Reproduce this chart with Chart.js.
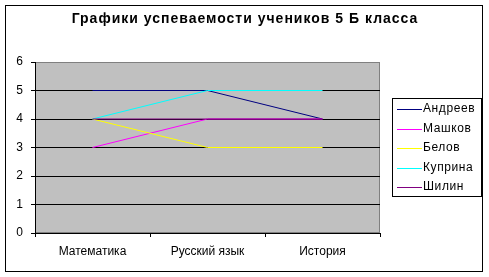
<!DOCTYPE html>
<html>
<head>
<meta charset="utf-8">
<script src="https://cdn.jsdelivr.net/npm/chart.js@4"></script>
<style>
html,body{margin:0;padding:0;background:#fff;}
#c{display:block;}
</style>
</head>
<body>
<canvas id="c" width="489" height="277"></canvas>
<script>
const titleText = 'Графики успеваемости учеников 5 Б класса';
const categories = ['Математика', 'Русский язык', 'История'];
const seriesNames = ['Андреев', 'Машков', 'Белов', 'Куприна', 'Шилин'];
const andreev = [5, 5, 4];
const mashkov = [3, 4, 4];
const belov = [4, 3, 3];
const kuprina = [4, 5, 5];
const shilin = [4, 4, 4];
const seriesColors = ['#000080', '#FF00FF', '#FFFF00', '#00FFFF', '#800080'];
const yTicks = [0, 1, 2, 3, 4, 5, 6];

const FONT = "'Liberation Sans', Arial, sans-serif";

const values = [andreev, mashkov, belov, kuprina, shilin];
const datasets = seriesNames.map((n, i) => ({
  label: n,
  data: values[i],
  borderColor: seriesColors[i],
  backgroundColor: seriesColors[i],
  borderWidth: 1,
  pointRadius: 0,
  pointHoverRadius: 0,
  tension: 0,
  fill: false,
  order: seriesNames.length - i
}));

const framePlugin = {
  id: 'frame',
  beforeDraw(chart) {
    const ctx = chart.ctx, a = chart.chartArea;
    ctx.save();
    ctx.fillStyle = '#fff';
    ctx.fillRect(0, 0, chart.width, chart.height);
    ctx.strokeStyle = '#000';
    ctx.lineWidth = 1;
    ctx.strokeRect(5.5, 5.5, 477, 266);
    ctx.fillStyle = '#C0C0C0';
    ctx.fillRect(a.left, a.top, a.right - a.left, a.bottom - a.top);
    ctx.strokeStyle = '#808080';
    ctx.strokeRect(a.left + 0.5, a.top + 0.5, a.right - a.left - 1, a.bottom - a.top - 1);
    ctx.restore();
  },
  afterDraw(chart) {
    const ctx = chart.ctx;
    ctx.save();
    // title
    ctx.fillStyle = '#000';
    ctx.font = 'bold 14px ' + FONT;
    ctx.textAlign = 'center';
    ctx.textBaseline = 'middle';
    if ('letterSpacing' in ctx) ctx.letterSpacing = '1px';
    ctx.fillText(titleText, 245, 19);
    // legend
    const lx = 392, ly = 98, lw = 89, lh = 98;
    ctx.fillStyle = '#fff';
    ctx.fillRect(lx, ly, lw, lh);
    ctx.strokeStyle = '#000';
    ctx.lineWidth = 1;
    ctx.strokeRect(lx + 0.5, ly + 0.5, lw, lh);
    ctx.font = '12px ' + FONT;
    ctx.textAlign = 'left';
    if ('letterSpacing' in ctx) ctx.letterSpacing = '0.6px';
    chart.data.datasets.forEach((ds, i) => {
      const y = 109 + i * 19.5;
      ctx.strokeStyle = ds.borderColor;
      ctx.beginPath();
      ctx.moveTo(397, Math.round(y) + 0.5);
      ctx.lineTo(422, Math.round(y) + 0.5);
      ctx.stroke();
      ctx.fillStyle = '#000';
      ctx.fillText(ds.label, 423, y);
    });
    ctx.restore();
  }
};

new Chart(document.getElementById('c'), {
  type: 'line',
  data: { labels: categories, datasets },
  options: {
    responsive: false,
    animation: false,
    events: [],
    layout: { padding: { left: 0, right: 109, top: 62, bottom: 0 } },
    plugins: { legend: { display: false }, title: { display: false }, tooltip: { enabled: false } },
    scales: {
      x: {
        offset: true,
        grid: { offset: true, drawOnChartArea: false, color: '#000', tickLength: 4 },
        border: { color: '#000' },
        ticks: { color: '#000', font: { family: FONT, size: 12 }, padding: 7, maxRotation: 0 },
        afterFit(s) { s.height = 44; }
      },
      y: {
        min: 0, max: 6,
        afterBuildTicks(s) { s.ticks = yTicks.map(v => ({ value: v })); },
        grid: {
          color: ctx => (ctx.tick && ctx.tick.value === 6) ? '#808080' : '#000',
          tickColor: '#000',
          tickLength: 4
        },
        border: { color: '#000' },
        ticks: { color: '#000', font: { family: FONT, size: 12 }, padding: 8 },
        afterFit(s) { s.width = 35; }
      }
    }
  },
  plugins: [framePlugin]
});
</script>
</body>
</html>
